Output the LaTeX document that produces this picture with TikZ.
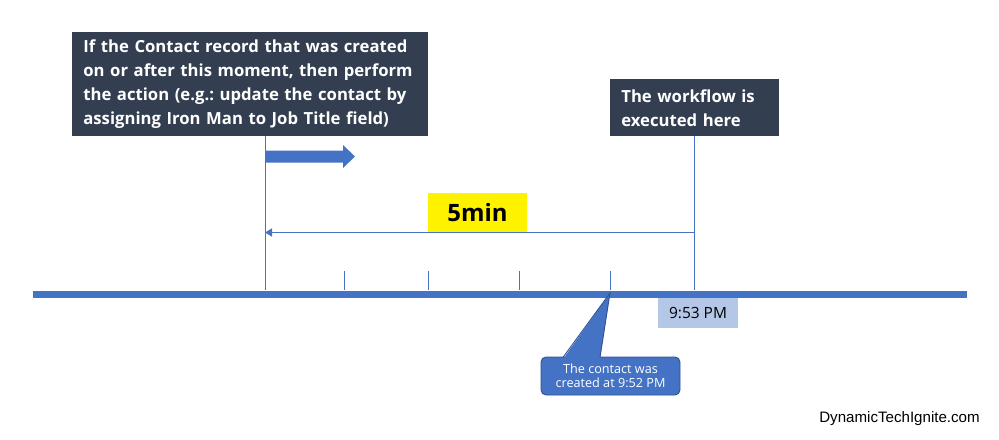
\documentclass[tikz,border=0pt]{standalone}
\usepackage{fontspec}
\setmainfont{Open Sans}
\newfontfamily\webfont{Liberation Sans}
\usepackage{xcolor}
\usetikzlibrary{arrows.meta}
\definecolor{slate}{HTML}{333F50}
\definecolor{officeblue}{HTML}{4472C4}
\definecolor{paleblue}{HTML}{B4C7E7}
\definecolor{calloutedge}{HTML}{2F528F}
\frenchspacing

\begin{document}
\begin{tikzpicture}[x=0.02cm,y=-0.02cm,
    note/.style={fill=slate,text=white,font=\bfseries\fontsize{9.5}{13.6}\selectfont,
        align=left,anchor=north west,inner xsep=0.22cm,inner ysep=0pt},
    guide/.style={draw=officeblue,line width=0.5pt},
    tick/.style={draw=officeblue,line width=0.5pt}]
    \useasboundingbox (0,0) rectangle (999,439);

    % The two dark notes
    \node[note,minimum width=7.12cm,minimum height=2.08cm,text width=6.68cm] (moment) at (72,32)
        {If the Contact record that was created\\on or after this moment, then perform\\the action (e.g.: update the contact by\\assigning Iron Man to Job Title field)};
    \node[note,minimum width=3.38cm,minimum height=1.14cm,text width=2.94cm] (run) at (610,79)
        {The workflow is\\executed here};

    % Time axis
    \coordinate (axisL) at (33,294);
    \coordinate (axisR) at (967,294);
    \coordinate (T0) at (265,290);
    \coordinate (T5) at (694,290);
    \coordinate (top0) at (265,136);
    \coordinate (top5) at (694,136);
    \draw[officeblue,line width=0.14cm] (axisL) -- (axisR);

    % Start and end of the window
    \draw[guide] (top0) -- (T0);
    \draw[guide] (top5) -- (T5);

    % Minute ticks
    \foreach \x/\n in {344/1,428/2,519/3,610/4}{
        \coordinate (tk\n) at (\x,271);
        \coordinate (tb\n) at (\x,290);
        \draw[tick] (tk\n) -- (tb\n);
    }

    % Block arrow to the right
    \fill[officeblue] (265,150.5) -- (343,150.5) -- (343,145) -- (355,156.5)
        -- (343,168) -- (343,162.5) -- (265,162.5) -- cycle;

    % 5 minute span
    \coordinate (spanR) at (694,232.5);
    \coordinate (spanL) at (265,232.5);
    \draw[officeblue,line width=1pt,-{Triangle[length=4pt,width=4.5pt]}] (spanR) -- (spanL);
    \node[fill=yellow,minimum width=1.98cm,minimum height=0.78cm,inner sep=0pt,
        font=\bfseries\fontsize{13.6}{16}\selectfont] (span) at (477.5,212.5) {5min};

    % Time stamp
    \node[fill=paleblue,minimum width=1.6cm,minimum height=0.6cm,inner sep=0pt,
        font=\fontsize{8.8}{10}\selectfont] (stamp) at (698,313) {9:53 PM};

    % Callout for the created contact
    \node[fill=officeblue,draw=calloutedge,line width=0.5pt,rounded corners=0.1cm,
        minimum width=2.78cm,minimum height=0.76cm,inner sep=0pt,text=white,align=center,
        font=\fontsize{7.2}{8.2}\selectfont] (created) at (610.5,376)
        {The contact was\\created at 9:52 PM};
    \coordinate (pin) at (610,293);
    \fill[officeblue] (563,359) -- (pin) -- (600,359) -- cycle;
    \draw[calloutedge,line width=0.5pt] (563,357.3) -- (pin) -- (600,357.3);

    % Watermark
    \node[font=\webfont\fontsize{8.6}{10}\selectfont] (site) at (899.5,419) {DynamicTechIgnite.com};
\end{tikzpicture}
\end{document}
